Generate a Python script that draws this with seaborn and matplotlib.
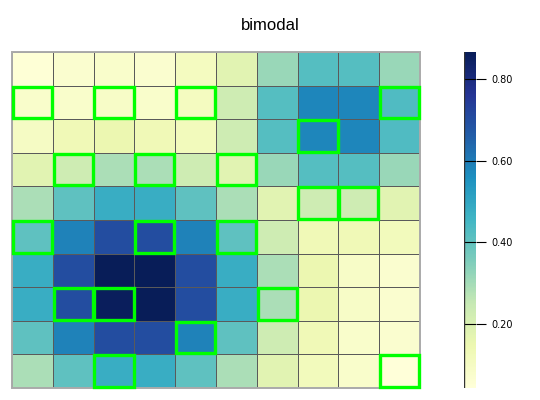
import matplotlib
matplotlib.use("Agg")
import matplotlib.pyplot as plt
import seaborn as sns
import numpy as np
import pandas as pd
from matplotlib.patches import Rectangle

title = "bimodal"
cbar_ticks = [0.20, 0.40, 0.60, 0.80]

row0 = [0.05, 0.07, 0.08, 0.07, 0.11, 0.18, 0.315, 0.42, 0.42, 0.315]
row1 = [0.08, 0.08, 0.09, 0.08, 0.11, 0.23, 0.42, 0.58, 0.58, 0.43]
row2 = [0.10, 0.13, 0.15, 0.13, 0.12, 0.23, 0.42, 0.58, 0.58, 0.43]
row3 = [0.18, 0.23, 0.29, 0.29, 0.23, 0.18, 0.315, 0.42, 0.42, 0.315]
row4 = [0.29, 0.405, 0.48, 0.48, 0.405, 0.29, 0.18, 0.23, 0.23, 0.18]
row5 = [0.405, 0.59, 0.70, 0.70, 0.59, 0.405, 0.23, 0.13, 0.13, 0.12]
row6 = [0.48, 0.70, 0.867, 0.867, 0.70, 0.48, 0.29, 0.15, 0.09, 0.07]
row7 = [0.48, 0.70, 0.86, 0.867, 0.70, 0.48, 0.29, 0.15, 0.09, 0.07]
row8 = [0.405, 0.59, 0.70, 0.70, 0.59, 0.405, 0.23, 0.13, 0.08, 0.07]
row9 = [0.29, 0.405, 0.48, 0.48, 0.405, 0.29, 0.18, 0.12, 0.08, 0.043]

box_rows = [1, 1, 1, 1, 2, 3, 3, 3, 4, 4, 5, 5, 5, 7, 7, 7, 8, 9, 9]
box_cols = [0, 2, 4, 9, 7, 1, 3, 5, 7, 8, 0, 3, 5, 1, 2, 6, 4, 2, 9]

data = pd.DataFrame([row0, row1, row2, row3, row4, row5, row6, row7, row8, row9])

fig = plt.figure(figsize=(5.4, 4.0), dpi=100)
ax = fig.add_axes([12/540, 1-388/400, 408/540, 336/400])
cax = fig.add_axes([464/540, 1-388/400, 12/540, 336/400])

sns.heatmap(data, ax=ax, cbar_ax=cax, cmap="YlGnBu",
            linewidths=0.6, linecolor="#5a5a5a",
            xticklabels=False, yticklabels=False,
            cbar_kws={"ticks": cbar_ticks})

ax.add_patch(Rectangle((0, 0), 10, 10, fill=False, edgecolor="#aaaaaa",
                       linewidth=1.4, clip_on=False, zorder=4))

for r, c in zip(box_rows, box_cols):
    ax.add_patch(Rectangle((c + 0.02, r + 0.03), 0.96, 0.94, fill=False,
                           edgecolor="#00ff00", linewidth=2.4,
                           clip_on=False, zorder=5))

ax.tick_params(left=False, bottom=False)

cbar = ax.collections[0].colorbar
cbar.set_ticklabels(["%.2f" % t for t in cbar_ticks])
cbar.outline.set_visible(False)
cax.tick_params(direction="out", length=7, width=0.8, labelsize=7, pad=4, colors="black")
for t in cbar_ticks:
    cax.axhline(t, color="black", linewidth=0.8)
cax.axvline(cax.get_xlim()[0], color="#333333", linewidth=1.0)

fig.text(0.5, 1 - 26/400, title, ha="center", va="center",
         fontsize=12, family="Liberation Sans")

fig.savefig("out.png", dpi=100)
